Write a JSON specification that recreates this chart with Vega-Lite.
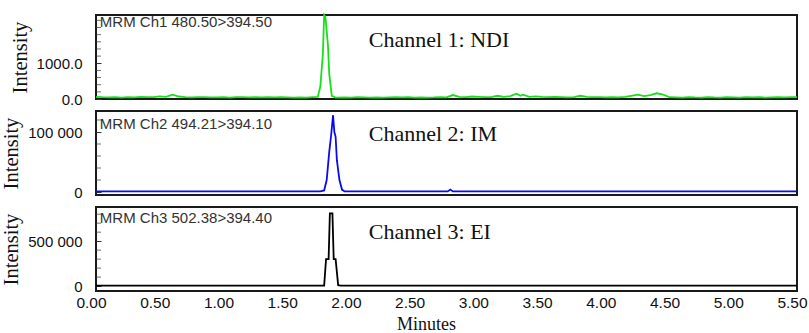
{
  "$schema": "https://vega.github.io/schema/vega-lite/v6.json",
  "padding": {"left": 0, "top": 10, "right": 11, "bottom": 0},
  "spacing": 12,
  "bounds": "flush",
  "background": "white",
  "config": {
    "view": {"stroke": "#1a1a1a", "strokeWidth": 2},
    "axis": {"grid": false, "domain": false, "labelFont": "Liberation Sans", "labelFontSize": 15, "labelColor": "#111", "titleFont": "Liberation Serif", "titleFontWeight": "normal", "titleFontSize": 20.5, "titleColor": "#111", "tickColor": "#333", "labelOverlap": false},
    "tick": {"orient": "horizontal", "size": 5, "thickness": 1, "color": "#333"}
  },
  "datasets": {
    "ch1": [
      {"t":0.00,"v":60},{"t":0.05,"v":50},{"t":0.10,"v":45},{"t":0.15,"v":55},{"t":0.20,"v":40},{"t":0.25,"v":50},{"t":0.30,"v":45},{"t":0.35,"v":60},{"t":0.40,"v":50},{"t":0.45,"v":55},{"t":0.50,"v":75},{"t":0.55,"v":60},{"t":0.60,"v":120},{"t":0.65,"v":70},{"t":0.70,"v":50},{"t":0.75,"v":45},{"t":0.80,"v":55},{"t":0.85,"v":50},{"t":0.90,"v":45},{"t":0.95,"v":45},{"t":1.00,"v":50},{"t":1.05,"v":40},{"t":1.10,"v":55},{"t":1.15,"v":50},{"t":1.20,"v":45},{"t":1.25,"v":50},{"t":1.30,"v":45},{"t":1.35,"v":50},{"t":1.40,"v":45},{"t":1.45,"v":50},{"t":1.50,"v":45},{"t":1.55,"v":40},{"t":1.60,"v":45},{"t":1.65,"v":40},{"t":1.70,"v":50},{"t":1.74,"v":60},{"t":1.76,"v":350},{"t":1.78,"v":1250},{"t":1.79,"v":2350},{"t":1.80,"v":2300},{"t":1.82,"v":1500},{"t":1.83,"v":700},{"t":1.85,"v":90},{"t":1.88,"v":40},{"t":1.95,"v":45},{"t":2.00,"v":40},{"t":2.05,"v":50},{"t":2.10,"v":45},{"t":2.15,"v":40},{"t":2.20,"v":45},{"t":2.25,"v":40},{"t":2.30,"v":45},{"t":2.35,"v":50},{"t":2.40,"v":45},{"t":2.45,"v":50},{"t":2.50,"v":40},{"t":2.55,"v":45},{"t":2.60,"v":40},{"t":2.65,"v":45},{"t":2.70,"v":55},{"t":2.75,"v":45},{"t":2.80,"v":110},{"t":2.85,"v":60},{"t":2.90,"v":50},{"t":2.95,"v":70},{"t":3.00,"v":60},{"t":3.05,"v":50},{"t":3.10,"v":55},{"t":3.15,"v":90},{"t":3.20,"v":60},{"t":3.25,"v":80},{"t":3.30,"v":150},{"t":3.33,"v":90},{"t":3.35,"v":120},{"t":3.40,"v":60},{"t":3.45,"v":75},{"t":3.50,"v":60},{"t":3.55,"v":50},{"t":3.60,"v":60},{"t":3.65,"v":55},{"t":3.70,"v":45},{"t":3.75,"v":50},{"t":3.80,"v":90},{"t":3.85,"v":60},{"t":3.90,"v":55},{"t":3.95,"v":50},{"t":4.00,"v":45},{"t":4.05,"v":50},{"t":4.10,"v":45},{"t":4.15,"v":60},{"t":4.20,"v":90},{"t":4.25,"v":120},{"t":4.30,"v":80},{"t":4.35,"v":110},{"t":4.40,"v":160},{"t":4.45,"v":120},{"t":4.50,"v":50},{"t":4.55,"v":45},{"t":4.60,"v":40},{"t":4.65,"v":55},{"t":4.70,"v":45},{"t":4.75,"v":40},{"t":4.80,"v":55},{"t":4.85,"v":45},{"t":4.90,"v":40},{"t":4.95,"v":50},{"t":5.00,"v":45},{"t":5.05,"v":40},{"t":5.10,"v":50},{"t":5.15,"v":45},{"t":5.20,"v":55},{"t":5.25,"v":40},{"t":5.30,"v":45},{"t":5.35,"v":50},{"t":5.40,"v":45},{"t":5.45,"v":55},{"t":5.50,"v":50}
    ],
    "ch2": [
      {"t":0.00,"v":1000},{"t":1.76,"v":1000},{"t":1.79,"v":2500},{"t":1.81,"v":20000},{"t":1.83,"v":67000},{"t":1.845,"v":95000},{"t":1.86,"v":128000},{"t":1.87,"v":100000},{"t":1.88,"v":92000},{"t":1.89,"v":53000},{"t":1.91,"v":20000},{"t":1.93,"v":4000},{"t":1.95,"v":1000},{"t":2.76,"v":1000},{"t":2.78,"v":4000},{"t":2.80,"v":1000},{"t":5.50,"v":1000}
    ],
    "ch3": [
      {"t":0.00,"v":5000},{"t":1.79,"v":5000},{"t":1.805,"v":300000},{"t":1.825,"v":300000},{"t":1.835,"v":810000},{"t":1.855,"v":810000},{"t":1.865,"v":300000},{"t":1.88,"v":300000},{"t":1.90,"v":10000},{"t":1.92,"v":5000},{"t":5.50,"v":5000}
    ],
    "minor1": [{"v":200},{"v":400},{"v":600},{"v":800},{"v":1200},{"v":1400},{"v":1600},{"v":1800},{"v":2000},{"v":2200}],
    "minor2": [{"v":20000},{"v":40000},{"v":60000},{"v":80000},{"v":120000}],
    "minor3": [{"v":100000},{"v":200000},{"v":300000},{"v":400000},{"v":600000},{"v":700000},{"v":800000}]
  },
  "vconcat": [
    {
      "width": 701, "height": 84,
      "layer": [
        {
          "data": {"name": "ch1"},
          "mark": {"type": "line", "color": "#18e018", "strokeWidth": 1.8},
          "encoding": {
            "x": {"field": "t", "type": "quantitative", "scale": {"domain": [0, 5.5], "nice": false}, "axis": null},
            "y": {"field": "v", "type": "quantitative", "scale": {"domain": [0, 2350], "nice": false, "zero": false},
                  "axis": {"title": "Intensity", "labelOverlap": false, "values": [0, 1000], "format": ".1f", "tickSize": -5, "labelPadding": 19, "titlePadding": 6}}
          }
        },
        {
          "data": {"name": "minor1"},
          "mark": {"type": "tick", "xOffset": 2.5},
          "encoding": {"x": {"datum": 0, "type": "quantitative"}, "y": {"field": "v", "type": "quantitative"}}
        },
        {
          "data": {"values": [{"label": "MRM Ch1 480.50>394.50", "t": 0.03, "v": 2150}]},
          "mark": {"type": "text", "align": "left", "baseline": "middle", "font": "Liberation Sans", "fontSize": 15, "letterSpacing": 0.9, "color": "#333"},
          "encoding": {"x": {"field": "t", "type": "quantitative"}, "y": {"field": "v", "type": "quantitative"}, "text": {"field": "label"}}
        },
        {
          "data": {"values": [{"label": "Channel 1: NDI", "t": 2.14, "v": 1650}]},
          "mark": {"type": "text", "align": "left", "baseline": "middle", "font": "Liberation Serif", "fontSize": 22, "color": "#111"},
          "encoding": {"x": {"field": "t", "type": "quantitative"}, "y": {"field": "v", "type": "quantitative"}, "text": {"field": "label"}}
        }
      ]
    },
    {
      "width": 701, "height": 84,
      "layer": [
        {
          "data": {"name": "ch2"},
          "mark": {"type": "line", "color": "#0a0af0", "strokeWidth": 1.8},
          "encoding": {
            "x": {"field": "t", "type": "quantitative", "scale": {"domain": [0, 5.5], "nice": false}, "axis": null},
            "y": {"field": "v", "type": "quantitative", "scale": {"domain": [-5000, 135000], "nice": false, "zero": false},
                  "axis": {"title": "Intensity", "labelOverlap": false, "values": [0, 100000], "labelExpr": "datum.value == 0 ? '0' : '100 000'", "tickSize": -5, "labelPadding": 19, "titlePadding": 6}}
          }
        },
        {
          "data": {"name": "minor2"},
          "mark": {"type": "tick", "xOffset": 2.5},
          "encoding": {"x": {"datum": 0, "type": "quantitative"}, "y": {"field": "v", "type": "quantitative"}}
        },
        {
          "data": {"values": [{"label": "MRM Ch2 494.21>394.10", "t": 0.03, "v": 113000}]},
          "mark": {"type": "text", "align": "left", "baseline": "middle", "font": "Liberation Sans", "fontSize": 15, "letterSpacing": 0.9, "color": "#333"},
          "encoding": {"x": {"field": "t", "type": "quantitative"}, "y": {"field": "v", "type": "quantitative"}, "text": {"field": "label"}}
        },
        {
          "data": {"values": [{"label": "Channel 2: IM", "t": 2.14, "v": 97000}]},
          "mark": {"type": "text", "align": "left", "baseline": "middle", "font": "Liberation Serif", "fontSize": 22, "color": "#111"},
          "encoding": {"x": {"field": "t", "type": "quantitative"}, "y": {"field": "v", "type": "quantitative"}, "text": {"field": "label"}}
        }
      ]
    },
    {
      "width": 701, "height": 84,
      "layer": [
        {
          "data": {"name": "ch3"},
          "mark": {"type": "line", "color": "#000000", "strokeWidth": 1.8},
          "encoding": {
            "x": {"field": "t", "type": "quantitative", "scale": {"domain": [0, 5.5], "nice": false},
                  "axis": {"title": "Minutes", "titleFontSize": 18, "titleX": 330, "labelOverlap": false, "labelFlush": false, "values": [0,0.5,1,1.5,2,2.5,3,3.5,4,4.5,5,5.5], "format": ".2f", "labelFontSize": 15.5, "ticks": false, "labelPadding": 4, "titlePadding": 5, "labelOffset": -5}},
            "y": {"field": "v", "type": "quantitative", "scale": {"domain": [-55000, 880000], "nice": false, "zero": false},
                  "axis": {"title": "Intensity", "labelOverlap": false, "values": [0, 500000], "labelExpr": "datum.value == 0 ? '0' : '500 000'", "tickSize": -5, "labelPadding": 19, "titlePadding": 6}}
          }
        },
        {
          "data": {"name": "minor3"},
          "mark": {"type": "tick", "xOffset": 2.5},
          "encoding": {"x": {"datum": 0, "type": "quantitative"}, "y": {"field": "v", "type": "quantitative"}}
        },
        {
          "data": {"values": [{"label": "MRM Ch3 502.38>394.40", "t": 0.03, "v": 757000}]},
          "mark": {"type": "text", "align": "left", "baseline": "middle", "font": "Liberation Sans", "fontSize": 15, "letterSpacing": 0.9, "color": "#333"},
          "encoding": {"x": {"field": "t", "type": "quantitative"}, "y": {"field": "v", "type": "quantitative"}, "text": {"field": "label"}}
        },
        {
          "data": {"values": [{"label": "Channel 3: EI", "t": 2.14, "v": 601000}]},
          "mark": {"type": "text", "align": "left", "baseline": "middle", "font": "Liberation Serif", "fontSize": 22, "color": "#111"},
          "encoding": {"x": {"field": "t", "type": "quantitative"}, "y": {"field": "v", "type": "quantitative"}, "text": {"field": "label"}}
        }
      ]
    }
  ]
}
